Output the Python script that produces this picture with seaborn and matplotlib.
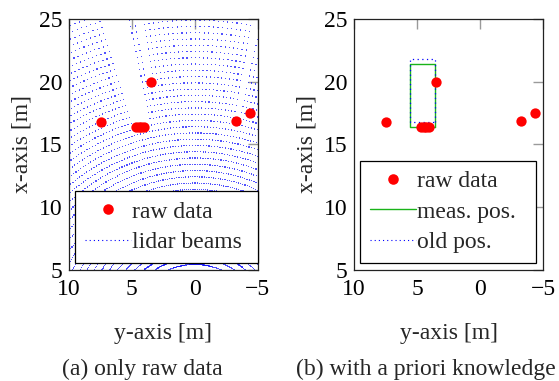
import numpy as np
import pandas as pd
import matplotlib
matplotlib.use("Agg")
import matplotlib.pyplot as plt
import seaborn as sns
from matplotlib.lines import Line2D

# ---------------- data ----------------
# raw lidar detections: lateral position y [m], longitudinal position x [m]
raw_y = [7.48, 4.65, 4.45, 4.25, 4.05, 3.49, -3.25, -4.37]
raw_x = [16.80, 16.36, 16.36, 16.36, 16.36, 20.00, 16.82, 17.47]

# lidar ground rings (radius around the sensor) [m]
ring_radii = [5.4, 5.9, 6.4, 6.9, 7.4, 7.9, 8.4, 8.9, 9.4, 9.9, 10.4, 10.9,
              11.4, 11.9, 12.4, 12.9, 13.4, 13.9, 14.4, 14.9, 15.4, 15.9,
              16.4, 16.9, 17.4, 17.9, 18.4, 18.9, 19.4, 19.9, 20.4, 20.9,
              21.4, 21.9, 22.4, 22.9, 23.4, 23.9, 24.4, 24.9, 25.4, 25.9,
              26.4, 26.9]
beam_step_deg = 0.85          # azimuth resolution of the beams

# occluded sectors behind objects: azimuth range [deg] and start radius [m]
shadow_min_deg = [12.0, 9.5, 23.7, -11.2, -14.4]
shadow_max_deg = [16.7, 10.3, 24.4, -10.7, -13.8]
shadow_r0 = [16.9, 20.5, 18.6, 17.4, 18.3]

# object boxes (y-range, x-range) [m]
meas_y = [3.55, 5.55]
meas_x = [16.35, 21.40]
old_y = [3.55, 5.55]
old_x = [16.80, 21.80]

y_ticks = [10, 5, 0, -5]
x_ticks = [5, 10, 15, 20, 25]
captions = ["(a) only raw data", "(b) with a priori knowledge"]
x_label = "y-axis [m]"
y_label = "x-axis [m]"

# ---------------- build tables ----------------
raw_df = pd.DataFrame({"y": raw_y, "x": raw_x})

ang = np.deg2rad(np.arange(-80.0, 80.0, beam_step_deg))
parts = []
for r in ring_radii:
    keep = np.ones(ang.shape, dtype=bool)
    for a0, a1, r0 in zip(shadow_min_deg, shadow_max_deg, shadow_r0):
        if r > r0:
            keep &= ~((ang >= np.deg2rad(a0)) & (ang <= np.deg2rad(a1)))
    a = ang[keep]
    parts.append(pd.DataFrame({"y": r * np.sin(a), "x": r * np.cos(a)}))
beam_df = pd.concat(parts, ignore_index=True)


def box_df(yr, xr):
    return pd.DataFrame({"y": [yr[0], yr[0], yr[1], yr[1], yr[0]],
                         "x": [xr[0], xr[1], xr[1], xr[0], xr[0]]})


meas_df = box_df(meas_y, meas_x)
old_df = box_df(old_y, old_x)

# ---------------- style ----------------
sns.set_style("white")
plt.rcParams["font.family"] = ["Liberation Serif", "DejaVu Serif"]
FS = 17
RED = "#ff0000"
BLUE = "#0000ff"
GREEN = "#19b319"
DOT = (0, (1.0, 2.75))

fig = plt.figure(figsize=(5.59, 3.81), dpi=100)
W, H = 559.0, 381.0
ax1 = fig.add_axes([69 / W, 1 - 269.5 / H, 188.7 / W, 250.5 / H])
ax2 = fig.add_axes([354 / W, 1 - 269.5 / H, 189 / W, 250.5 / H])

# left panel
sns.scatterplot(data=beam_df, x="y", y="x", ax=ax1, marker="s", s=0.8,
                color=BLUE, edgecolor="none", alpha=0.68, legend=False,
                zorder=1)
sns.scatterplot(data=raw_df, x="y", y="x", ax=ax1, s=55, color=RED,
                linewidth=0, legend=False, zorder=3)

# right panel
sns.scatterplot(data=raw_df, x="y", y="x", ax=ax2, s=55, color=RED,
                linewidth=0, legend=False, zorder=3)
sns.lineplot(data=meas_df, x="y", y="x", ax=ax2, sort=False, estimator=None,
             color=GREEN, lw=1.0, zorder=2)
sns.lineplot(data=old_df, x="y", y="x", ax=ax2, sort=False, estimator=None,
             color=BLUE, lw=0.9, linestyle=DOT, zorder=2.5)

for ax in (ax1, ax2):
    ax.set_xlim(10, -5)
    ax.set_ylim(5, 25)
    ax.set_xticks(y_ticks)
    ax.set_yticks(x_ticks)
    ax.tick_params(direction="in", length=7, width=1.0, color="#9a9a9a",
                   top=True, right=True, labelsize=FS, labelcolor="black")
    ax.tick_params(axis="x", pad=7)
    ax.tick_params(axis="y", pad=5)
    for s in ax.spines.values():
        s.set_color("#222222")
        s.set_linewidth(0.9)
        s.set_zorder(5)
    ax.set_xlabel(x_label, fontsize=FS, labelpad=16.5)
    ax.set_ylabel(y_label, fontsize=FS, labelpad=4)

leg_kw = dict(loc="lower left", mode="expand", fontsize=FS, frameon=True,
              fancybox=False, framealpha=1.0, edgecolor="black",
              handlelength=1.95, handletextpad=0.05, borderpad=0.43,
              labelspacing=0.37, borderaxespad=0.0)

h_raw = Line2D([], [], marker="o", color=RED, ls="none", ms=7.6, mew=0)
h_beam = Line2D([], [], color=BLUE, ls=DOT, lw=0.8)
h_meas = Line2D([], [], color=GREEN, lw=1.0)
h_old = Line2D([], [], color=BLUE, ls=DOT, lw=0.8)

leg1 = ax1.legend([h_raw, h_beam], ["raw data", "lidar beams"],
                  bbox_to_anchor=(0.032, 0.026, 0.968, 0.3), **leg_kw)
leg2 = ax2.legend([h_raw, h_meas, h_old], ["raw data", "meas. pos.", "old pos."],
                  bbox_to_anchor=(0.032, 0.026, 0.931, 0.4), **leg_kw)
for lg in (leg1, leg2):
    lg.get_frame().set_linewidth(0.9)
    lg.set_zorder(6)

fig.text(142 / W, 1 - 369 / H, captions[0], ha="center", va="center", fontsize=FS)
fig.text(426 / W, 1 - 369 / H, captions[1], ha="center", va="center", fontsize=FS)

fig.savefig("out.png", dpi=100)
